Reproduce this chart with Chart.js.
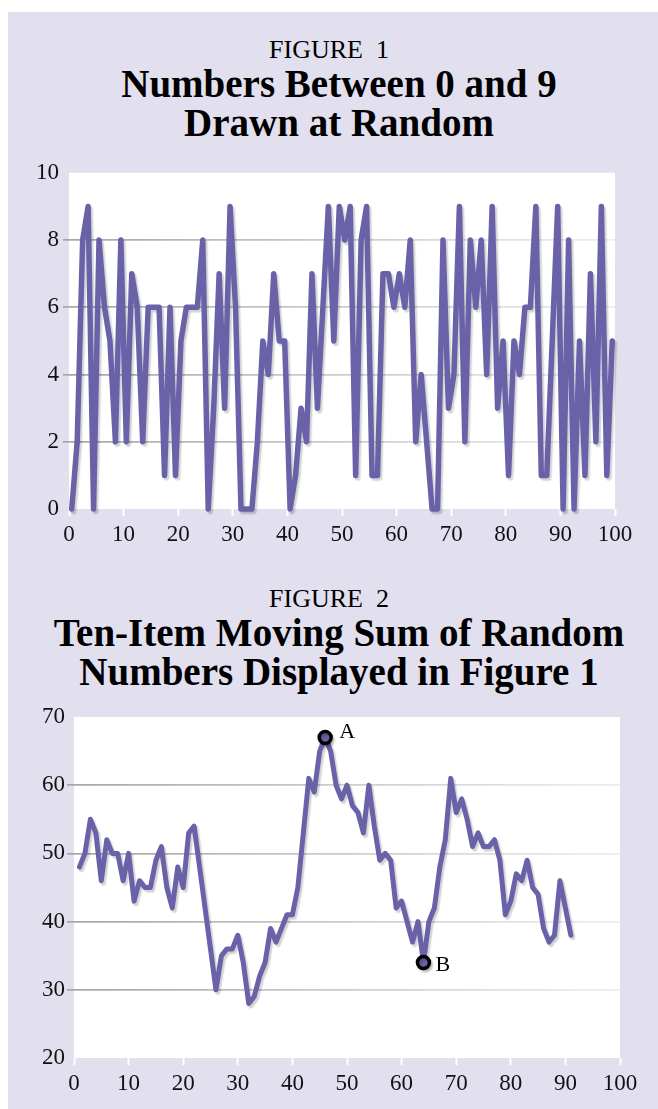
<!DOCTYPE html>
<html><head><meta charset="utf-8">
<script src="https://cdn.jsdelivr.net/npm/chart.js@4.4.1/dist/chart.umd.min.js"></script>
<style>
html,body{margin:0;padding:0;background:#fff;}
body{width:658px;height:1109px;position:relative;overflow:hidden;font-family:'Liberation Serif',serif;}
#panel{position:absolute;left:8px;top:12px;width:650px;height:1097px;background:#e2dfee;}
.t{position:absolute;left:0;width:658px;text-align:center;color:#000;white-space:nowrap;}
.lab{font-size:26px;line-height:26px;}
.ttl{font-weight:bold;font-size:39px;line-height:39px;left:10px;}
.cw{position:absolute;left:0;width:658px;}
</style></head><body>
<div id="panel"></div>
<div class="t lab" style="top:37px;">FIGURE&nbsp; 1</div>
<div class="t ttl" style="top:64px;">Numbers Between 0 and 9<br>Drawn at Random</div>
<div class="cw" style="top:155px;height:394px;"><canvas id="c1"></canvas></div>
<div class="t lab" style="top:586px;">FIGURE&nbsp; 2</div>
<div class="t ttl" style="top:613px;">Ten-Item Moving Sum of Random<br>Numbers Displayed in Figure 1</div>
<div class="cw" style="top:700px;height:398px;"><canvas id="c2"></canvas></div>
<script>
// ---- data ----
const fig1Values = [0,2,8,9,0,8,6,5,2,8, 2,7,6,2,6,6,6,1,6,1, 5,6,6,6,8,0,3,7,3,9,
  6,0,0,0,2,5,4,7,5,5, 0,1,3,2,7,3,6,9,5,9, 8,9,1,8,9,1,1,7,7,6,
  7,6,8,2,4,2,0,0,8,3, 4,9,2,8,6,8,4,9,3,5, 1,5,4,6,6,9,1,1,5,9,
  0,8,0,5,1,7,2,9,1,5];
const fig2Values = [48,50,55,53,46,52,50,50,46,50, 43,46,45,45,49,51,45,42,48,45,
  53,54,48,42,36,30,35,36,36,38, 34,28,29,32,34,39,37,39,41,41,
  45,53,61,59,65,67,65,60,58,60, 57,56,53,60,54,49,50,49,42,43,
  40,37,40,34,40,42,48,52,61,56, 58,55,51,53,51,51,52,49,41,43,
  47,46,49,45,44,39,37,38,46,42, 38];
const xTickValues = [0,10,20,30,40,50,60,70,80,90,100];
const fig1YTicks = [0,2,4,6,8,10];
const fig2YTicks = [20,30,40,50,60,70];
const markerIndices = [45,63];
const markerLabels = ['A','B'];

// ---- style ----
const PURPLE = '#6962a9';
const FONT = {family:"'Liberation Serif', serif", size:23};

const plotBg = {
  id:'plotBg',
  beforeDraw(chart){
    const {ctx, chartArea:a} = chart;
    ctx.save(); ctx.fillStyle='#ffffff';
    ctx.fillRect(a.left, a.top, a.right-a.left, a.bottom-a.top);
    ctx.restore();
  }
};
const lineShadow = {
  id:'lineShadow',
  beforeDatasetDraw(chart){
    const ctx = chart.ctx; ctx.save();
    ctx.shadowColor='rgba(0,0,0,0.18)'; ctx.shadowOffsetX=2; ctx.shadowOffsetY=2.5; ctx.shadowBlur=1.5;
  },
  afterDatasetDraw(chart){ chart.ctx.restore(); }
};
const markerText = {
  id:'markerText',
  afterDatasetsDraw(chart, args, opts){
    if(!opts.indices) return;
    const meta = chart.getDatasetMeta(0); const ctx = chart.ctx;
    ctx.save(); ctx.fillStyle='#000'; ctx.font="22px 'Liberation Serif', serif";
    ctx.textBaseline='alphabetic'; ctx.textAlign='left';
    opts.indices.forEach((idx,j)=>{
      const p = meta.data[idx]; const o = opts.offsets[j];
      ctx.fillText(opts.labels[j], p.x+o[0], p.y+o[1]);
    });
    ctx.restore();
  }
};

function gridColor(yTicks){
  return (c)=>{
    const v = c.tick ? c.tick.value : null;
    if(v===yTicks[0] || v===yTicks[yTicks.length-1]) return 'rgba(0,0,0,0)';
    const {ctx, chartArea:a} = c.chart;
    if(!a) return '#bbb';
    const g = ctx.createLinearGradient(a.left-8,0,a.right,0);
    g.addColorStop(0,'#a6a6a6'); g.addColorStop(0.5,'#cccccc'); g.addColorStop(1,'#eeeeee');
    return g;
  };
}

function makeChart(id, points, yTicks, pad, yWidth, tickPad, lw, extra){
  const cfg = {
    type:'line',
    data:{datasets:[Object.assign({
      data:points, borderColor:PURPLE, borderWidth:lw, borderJoinStyle:'round', borderCapStyle:'round',
      tension:0, pointRadius:0, clip:12
    }, extra.dataset || {})]},
    options:{
      responsive:true, maintainAspectRatio:false, animation:false,
      layout:{padding:pad},
      plugins:{legend:{display:false}, tooltip:{enabled:false}, markerText: extra.markers || {}},
      scales:{
        x:{type:'linear', min:0, max:100,
          afterBuildTicks:(s)=>{ s.ticks = xTickValues.map(v=>({value:v})); },
          afterFit:(s)=>{ s.height = 40; },
          grid:{drawOnChartArea:false, drawTicks:true, tickLength:7, tickWidth:2, tickColor:'#ffffff'},
          border:{display:false},
          ticks:{font:FONT, color:'#111', padding:tickPad.x, maxRotation:0, autoSkip:false}
        },
        y:{type:'linear', min:yTicks[0], max:yTicks[yTicks.length-1],
          afterBuildTicks:(s)=>{ s.ticks = yTicks.map(v=>({value:v})); },
          afterFit:(s)=>{ s.width = yWidth; },
          grid:{color:gridColor(yTicks), lineWidth:1.7, tickLength:tickPad.len, drawTicks:true},
          border:{display:false},
          ticks:{font:FONT, color:'#111', padding:tickPad.y, autoSkip:false}
        }
      }
    },
    plugins:[plotBg, lineShadow, markerText]
  };
  return new Chart(document.getElementById(id), cfg);
}

// Figure 1: values drawn at the centre of each unit interval
const pts1 = fig1Values.map((v,i)=>({x:i+0.5, y:v}));
makeChart('c1', pts1, fig1YTicks, {top:12,right:43,left:0,bottom:0}, 69, {x:5,y:4,len:6}, 5.5, {});

// Figure 2: moving sums, first sum at x = 1
const pts2 = fig2Values.map((v,k)=>({x:k+1, y:v}));
makeChart('c2', pts2, fig2YTicks, {top:17,right:38,left:0,bottom:0}, 74, {x:5,y:2,len:7}, 5, {
  dataset:{
    pointRadius:(c)=> markerIndices.includes(c.dataIndex) ? 6 : 0,
    pointBackgroundColor:PURPLE, pointBorderColor:'#000', pointBorderWidth:3.5
  },
  markers:{indices:markerIndices, labels:markerLabels, offsets:[[14,1],[12,8]]}
});
</script>
</body></html>
